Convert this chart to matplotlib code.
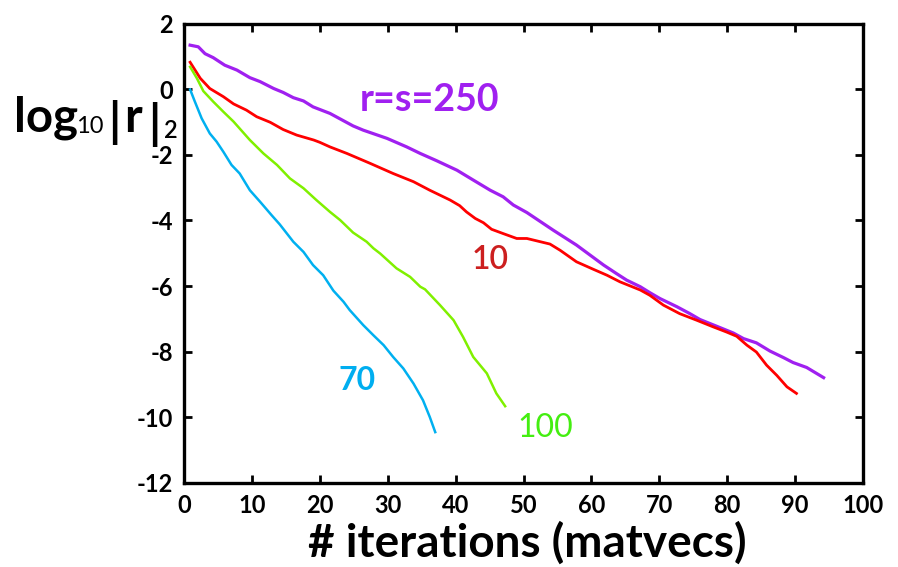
import matplotlib
matplotlib.use("Agg")
import matplotlib.pyplot as plt

# ---- data ----
x_250 = [0.9, 2.1, 3.1, 4.3, 6.0, 7.8, 9.7, 11.2, 13.2, 14.6, 16.1, 17.6, 19.0, 21.5,
         24.9, 26.4, 29.9, 32.8, 34.8, 37.2, 40.2, 42.6, 45.1, 47.0, 48.5, 50.5, 54.4,
         57.8, 61.8, 63.7, 65.2, 67.2, 68.6, 70.1, 72.6, 74.5, 76.0, 78.4, 80.9, 82.4,
         84.3, 86.3, 88.3, 89.7, 91.7, 94.2]
y_250 = [1.34, 1.29, 1.08, 0.96, 0.73, 0.58, 0.35, 0.23, 0.02, -0.10, -0.26, -0.36, -0.54, -0.74,
         -1.12, -1.25, -1.50, -1.76, -1.96, -2.18, -2.47, -2.77, -3.08, -3.28, -3.53, -3.76, -4.30,
         -4.75, -5.36, -5.62, -5.82, -6.02, -6.20, -6.38, -6.63, -6.84, -7.02, -7.22, -7.43, -7.60,
         -7.73, -7.98, -8.18, -8.33, -8.48, -8.79]

x_10 = [0.9, 2.4, 3.8, 5.8, 7.3, 9.2, 10.7, 12.7, 14.6, 16.6, 19.1, 20.0, 21.5, 24.0, 27.4,
        30.8, 33.8, 36.2, 39.2, 40.6, 41.6, 42.9, 44.1, 45.3, 47.0, 49.0, 50.5, 53.9, 55.4,
        57.8, 60.3, 62.3, 64.2, 67.2, 68.6, 70.6, 73.0, 75.5, 77.9, 79.9, 81.4, 82.9, 84.3,
        85.8, 87.3, 88.8, 90.2]
y_10 = [0.82, 0.33, 0.02, -0.23, -0.45, -0.64, -0.84, -1.01, -1.23, -1.40, -1.55, -1.62, -1.76,
        -1.96, -2.26, -2.57, -2.82, -3.08, -3.38, -3.55, -3.74, -3.94, -4.07, -4.27, -4.40,
        -4.55, -4.55, -4.72, -4.91, -5.26, -5.49, -5.67, -5.87, -6.12, -6.28, -6.58, -6.84,
        -7.04, -7.24, -7.40, -7.53, -7.80, -8.01, -8.41, -8.72, -9.07, -9.27]

x_100 = [0.9, 1.9, 2.85, 4.3, 5.8, 7.3, 8.2, 9.7, 11.7, 13.7, 15.6, 17.6, 19.5, 21.5, 23.0,
         24.9, 26.9, 27.9, 28.9, 31.3, 33.3, 34.8, 35.5, 37.7, 39.7, 41.1, 42.6, 44.6, 46.0, 47.3]
y_100 = [0.68, 0.33, -0.06, -0.38, -0.69, -0.99, -1.20, -1.55, -1.96, -2.31, -2.72, -3.02,
         -3.38, -3.74, -3.99, -4.37, -4.65, -4.85, -5.01, -5.46, -5.72, -6.02, -6.10, -6.58,
         -7.04, -7.55, -8.16, -8.66, -9.27, -9.66]

x_70 = [0.9, 1.6, 2.6, 3.8, 4.8, 5.8, 7.0, 8.2, 9.7, 11.2, 12.9, 14.1, 16.1, 17.6, 19.0, 20.5,
        22.0, 23.5, 24.4, 26.4, 27.9, 29.4, 30.8, 32.3, 33.8, 35.2, 36.2, 37.0]
y_70 = [-0.01, -0.38, -0.89, -1.35, -1.60, -1.91, -2.31, -2.57, -3.08, -3.43, -3.84, -4.12,
        -4.65, -4.96, -5.36, -5.67, -6.14, -6.48, -6.73, -7.19, -7.50, -7.80, -8.16, -8.51,
        -8.97, -9.48, -9.99, -10.45]

x_ticks = [0, 10, 20, 30, 40, 50, 60, 70, 80, 90, 100]
y_ticks = [2, 0, -2, -4, -6, -8, -10, -12]

labels = ["r=s=250", "10", "70", "100"]

W, H = 898, 567

def fx(px):
    return px / W

def fy(py):
    return 1 - py / H

# ---- figure ----
fig = plt.figure(figsize=(8.98, 5.67), dpi=100)
ax = fig.add_axes([fx(184), fy(483), (863 - 184) / W, (483 - 23.5) / H])

ax.plot(x_250, y_250, color="#a020f0", lw=2.3, solid_joinstyle="round")
ax.plot(x_10, y_10, color="#ff0000", lw=2.0, solid_joinstyle="round")
ax.plot(x_100, y_100, color="#80f000", lw=1.8, solid_joinstyle="round")
ax.plot(x_70, y_70, color="#00b0f0", lw=1.8, solid_joinstyle="round")

ax.set_xlim(0, 100)
ax.set_ylim(-12, 2)
ax.set_xticks(x_ticks)
ax.set_yticks(y_ticks)
ax.set_xticklabels([str(t) for t in x_ticks])
ax.set_yticklabels([str(t) for t in y_ticks])

for s in ax.spines.values():
    s.set_linewidth(2.4)
ax.tick_params(direction="in", length=6, width=2, top=True, right=True,
               labelsize=17, pad=8)
for lab in ax.get_xticklabels() + ax.get_yticklabels():
    lab.set_fontweight("bold")
    lab.set_family("Lato")

ax.text(36.2, -0.33, labels[0], color="#a020f0", fontsize=27, fontweight="bold",
        ha="center", va="center", family="Lato")
ax.text(45.1, -5.21, labels[1], color="#cc1f1f", fontsize=23, fontweight="semibold",
        ha="center", va="center", family="Lato")
ax.text(25.5, -8.87, labels[2], color="#00aef0", fontsize=23, fontweight="bold",
        ha="center", va="center", family="Lato")
ax.text(53.2, -10.33, labels[3], color="#44ee11", fontsize=23, fontweight="normal",
        ha="center", va="center", family="Lato")

# x label
fig.text(fx(527), fy(557), "# iterations (matvecs)", fontsize=33, fontweight="bold",
         family="Lato", ha="center", va="baseline")

# y label: log10|r|2 built from pieces
fig.text(fx(14), fy(131.5), "log", fontsize=34, fontweight="bold", family="Lato",
         ha="left", va="baseline")
fig.text(fx(76), fy(133), "10", fontsize=17, fontweight="normal", family="Lato",
         ha="left", va="baseline")
fig.text(fx(108), fy(137), "|", fontsize=34, fontweight="bold", family="Lato",
         ha="left", va="baseline")
fig.text(fx(124), fy(131.5), "r", fontsize=34, fontweight="bold", family="Lato",
         ha="left", va="baseline")
fig.text(fx(148), fy(139), "|", fontsize=34, fontweight="bold", family="Lato",
         ha="left", va="baseline")
fig.text(fx(164), fy(138), "2", fontsize=17, fontweight="semibold", family="Lato",
         ha="left", va="baseline")

fig.savefig("out.png", dpi=100)
